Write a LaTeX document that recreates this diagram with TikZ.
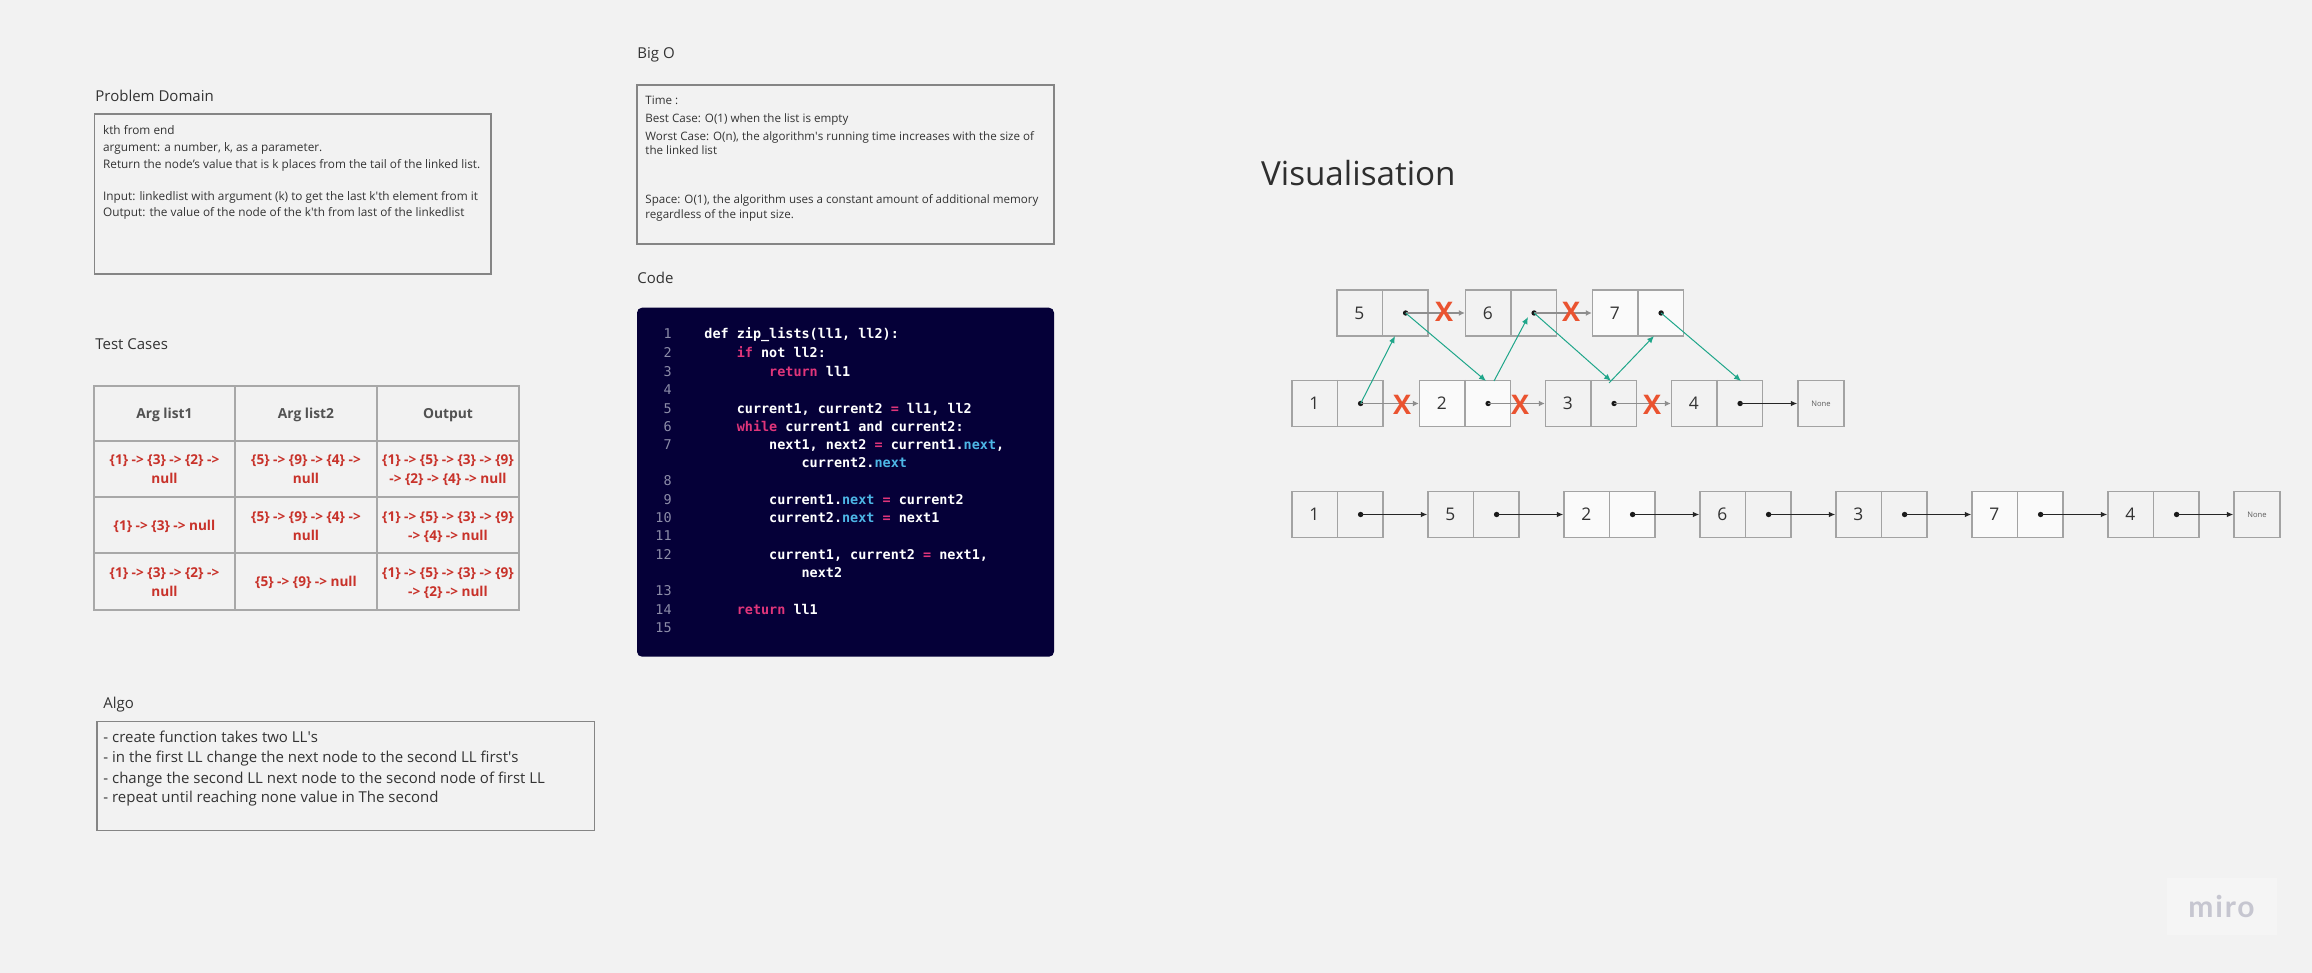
\documentclass[tikz,border=0pt]{standalone}
\usepackage{fontspec}
\setmainfont{Open Sans}
\setmonofont{DejaVu Sans Mono}
\newfontfamily\mirofont[LetterSpace=6]{Lato}
\usetikzlibrary{arrows.meta,calc}
\definecolor{bg}{HTML}{F2F2F2}
\definecolor{txt}{HTML}{333333}
\definecolor{panelline}{HTML}{858585}
\definecolor{codebg}{HTML}{050038}
\definecolor{kw}{HTML}{E0357A}
\definecolor{attr}{HTML}{4DB6E6}
\definecolor{lnum}{HTML}{8C8CA8}
\definecolor{cellred}{HTML}{C8322A}
\definecolor{tableline}{HTML}{A8A8A8}
\definecolor{xred}{HTML}{EA5330}
\definecolor{tealc}{HTML}{1FA68A}
\definecolor{garrow}{HTML}{8E8E8E}
\definecolor{llline}{HTML}{A3A3A3}
\definecolor{whitebox}{HTML}{FAFAFA}
\definecolor{mirotxt}{HTML}{C6C6D0}
\definecolor{mirobg}{HTML}{F5F5F5}
\newcommand\llcell[5]{%
  \node[llbox, fill=#5] (#1) at (#2,#3) {};
  \draw[llsep] (#1.north) -- (#1.south);
  \node[digit] (#1n) at ($(#1.west)!0.25!(#1.east)$) {#4};
  \coordinate (#1p) at ($(#1.west)!0.75!(#1.east)$);
  \fill[black!90] (#1p) circle[radius=1.35pt];
}
\begin{document}
\begin{tikzpicture}[x=0.5pt,y=-0.5pt,
  title/.style={anchor=base west, inner sep=0, text=txt, font=\fontsize{7.5pt}{9pt}\selectfont},
  bigtitle/.style={anchor=base west, inner sep=0, text=txt!90!black, font=\fontsize{16.6pt}{20pt}\selectfont},
  body/.style={anchor=base west, inner sep=0, text=txt, font=\fontsize{5.9pt}{7pt}\selectfont},
  bigo/.style={anchor=base west, inner sep=0, text=txt, font=\fontsize{5.8pt}{7pt}\selectfont},
  algo/.style={anchor=base west, inner sep=0, text=txt, font=\fontsize{7.5pt}{9pt}\selectfont},
  panel/.style={draw=panelline, line width=0.65pt},
  thead/.style={anchor=base, inner sep=0, text=txt!85!white, font=\fontsize{6.9pt}{8pt}\selectfont\bfseries},
  tcell/.style={anchor=base, inner sep=0, text=cellred, font=\fontsize{6.8pt}{8pt}\selectfont\bfseries},
  code/.style={anchor=base west, inner sep=0, text=white, font=\fontsize{6.73pt}{8pt}\selectfont\ttfamily\bfseries},
  lno/.style={anchor=base east, inner sep=0, text=lnum, font=\fontsize{6.73pt}{8pt}\selectfont\ttfamily},
  llbox/.style={draw=llline, line width=0.7pt, minimum width=45.5pt, minimum height=23pt, inner sep=0},
  llsep/.style={draw=llline, line width=0.7pt},
  digit/.style={inner sep=0, text=txt, font=\fontsize{8.7pt}{10pt}\selectfont},
  nonebox/.style={draw=llline, line width=0.7pt, minimum width=23pt, minimum height=23pt, inner sep=0, text=txt!80!white, font=\fontsize{3.8pt}{4.2pt}\selectfont},
  grayarr/.style={draw=garrow, line width=0.65pt, -{Latex[length=3pt,width=3pt]}},
  blackarr/.style={draw=black!85, line width=0.6pt, -{Latex[length=3.2pt,width=2.8pt]}},
  greenarr/.style={draw=tealc, line width=0.5pt, -{Latex[length=3.5pt,width=3pt]}},
  xmark/.style={inner sep=0, text=xred, font=\fontsize{13.5pt}{14pt}\selectfont\bfseries}
]
\fill[bg] (0,0) rectangle (2312,973);
\useasboundingbox (0,0) rectangle (2312,973);

% ---------- Problem Domain ----------
\node[title] (tpd) at (95,101.7) {Problem Domain};
\draw[panel] (94.3,114) rectangle (491,274);
\node[body] (pd1) at (102.7,134.3) {kth from end};
\node[body] (pd2) at (102.7,151.7) {argument: a number, k, as a parameter.};
\node[body] (pd3) at (102.7,169) {Return the node’s value that is k places from the tail of the linked list.};
\node[body] (pd4) at (102.7,200.7) {Input: linkedlist with argument (k) to get the last k\textquotesingle th element from it};
\node[body] (pd5) at (102.7,216.7) {Output: the value of the node of the k\textquotesingle th from last of the linkedlist};

% ---------- Big O ----------
\node[title] (tbo) at (637,58.3) {Big O};
\draw[panel] (637,85) rectangle (1054,244);
\node[bigo] (bo1) at (645,104.3) {Time :};
\node[bigo] (bo2) at (645,122.7) {Best Case: O(1) when the list is empty};
\node[bigo] (bo3) at (645,141) {Worst Case: O(n), the algorithm\textquotesingle s running time increases with the size of};
\node[bigo] (bo4) at (645,154.5) {the linked list};
\node[bigo] (bo5) at (645,203.3) {Space: O(1), the algorithm uses a constant amount of additional memory};
\node[bigo] (bo6) at (645,218.7) {regardless of the input size.};

% ---------- Code ----------
\node[title] (tcode) at (637,284) {Code};
\fill[codebg, rounded corners=2.5pt] (637,307.7) rectangle (1054,656.7);
\foreach \n/\yy in {1/338.7,2/357.7,3/376,4/394.3,5/413,6/431.3,7/449,8/485.7,9/504,10/522.3,11/540.7,12/559,13/595.3,14/614,15/632.3}
  \node[lno] (ln\n) at (672,\yy) {\n};
\node[code] (c1) at (704,338.7) {def zip\_lists(ll1, ll2):};
\node[code] (c2) at (736.4,357.7) {{\color{kw}if} not ll2:};
\node[code] (c3) at (768.8,376) {{\color{kw}return} ll1};
\node[code] (c5) at (736.4,413) {current1, current2 {\color{kw}=} ll1, ll2};
\node[code] (c6) at (736.4,431.3) {{\color{kw}while} current1 and current2:};
\node[code] (c7) at (768.8,449) {next1, next2 {\color{kw}=} current1.{\color{attr}next},};
\node[code] (c7b) at (801.2,467.3) {current2.{\color{attr}next}};
\node[code] (c9) at (768.8,504) {current1.{\color{attr}next} {\color{kw}=} current2};
\node[code] (c10) at (768.8,522.3) {current2.{\color{attr}next} {\color{kw}=} next1};
\node[code] (c12) at (768.8,559) {current1, current2 {\color{kw}=} next1,};
\node[code] (c12b) at (801.2,577.3) {next2};
\node[code] (c14) at (736.4,614) {{\color{kw}return} ll1};

% ---------- Test Cases ----------
\node[title] (ttc) at (95,349.3) {Test Cases};
\draw[draw=tableline, line width=0.75pt] (94,386) rectangle (519,610);
\draw[draw=tableline, line width=0.75pt] (235,386) -- (235,610) (377,386) -- (377,610)
  (94,441) -- (519,441) (94,497) -- (519,497) (94,553) -- (519,553);
\node[thead] (h1) at (164.5,418.6) {Arg list1};
\node[thead] (h2) at (306,418.6) {Arg list2};
\node[thead] (h3) at (448,418.6) {Output};
\node[tcell] (a1a) at (164.5,464.3) {\{1\} -> \{3\} -> \{2\} ->};
\node[tcell] (a1b) at (164.5,483.3) {null};
\node[tcell] (b1a) at (306,464.3) {\{5\} -> \{9\} -> \{4\} ->};
\node[tcell] (b1b) at (306,483.3) {null};
\node[tcell] (o1a) at (448,464.3) {\{1\} -> \{5\} -> \{3\} -> \{9\}};
\node[tcell] (o1b) at (448,483.3) {-> \{2\} -> \{4\} -> null};
\node[tcell] (a2a) at (164.5,530.3) {\{1\} -> \{3\} -> null};
\node[tcell] (b2a) at (306,521.3) {\{5\} -> \{9\} -> \{4\} ->};
\node[tcell] (b2b) at (306,540.3) {null};
\node[tcell] (o2a) at (448,521.3) {\{1\} -> \{5\} -> \{3\} -> \{9\}};
\node[tcell] (o2b) at (448,540.3) {-> \{4\} -> null};
\node[tcell] (a3a) at (164.5,577.3) {\{1\} -> \{3\} -> \{2\} ->};
\node[tcell] (a3b) at (164.5,596.3) {null};
\node[tcell] (b3a) at (306,586.3) {\{5\} -> \{9\} -> null};
\node[tcell] (o3a) at (448,577.3) {\{1\} -> \{5\} -> \{3\} -> \{9\}};
\node[tcell] (o3b) at (448,596.3) {-> \{2\} -> null};

% ---------- Algo ----------
\node[title] (talgo) at (103,708.3) {Algo};
\draw[panel] (97,721.7) rectangle (594.5,830.7);
\node[algo] (al1) at (103,742.8) {- create function takes two LL\textquotesingle s};
\node[algo] (al2) at (103,762.8) {- in the first LL change the next node to the second LL first\textquotesingle s};
\node[algo] (al3) at (103,783.8) {- change the second LL next node to the second node of first LL};
\node[algo] (al4) at (103,802.8) {- repeat until reaching none value in The second};

% ---------- Visualisation ----------
\node[bigtitle] (tvis) at (1260.7,186) {Visualisation};

% top list
\llcell{t5}{1382.5}{313}{5}{bg}
\llcell{t6}{1511}{313}{6}{bg}
\llcell{t7}{1638}{313}{7}{whitebox}
% bottom list
\llcell{b1}{1337.5}{403.5}{1}{bg}
\llcell{b2}{1465}{403.5}{2}{whitebox}
\llcell{b3}{1591}{403.5}{3}{bg}
\llcell{b4}{1717}{403.5}{4}{bg}
\node[nonebox, fill=bg] (bn) at (1821,403.5) {None};

\draw[grayarr] (t5p) -- (t6.west);
\draw[grayarr] (t6p) -- (t7.west);
\draw[grayarr] (b1p) -- (b2.west);
\draw[grayarr] (b2p) -- (b3.west);
\draw[grayarr] (b3p) -- (b4.west);
\draw[blackarr] (b4p) -- (bn.west);

\node[xmark] (x1) at (1444,312) {X};
\node[xmark] (x2) at (1571,312) {X};
\node[xmark] (x3) at (1402,405) {X};
\node[xmark] (x4) at (1520,405) {X};
\node[xmark] (x5) at (1652,405) {X};

\coordinate (g1e) at (1395,336);
\coordinate (g2e) at (1486,381);
\coordinate (g3s) at (1494,381);
\coordinate (g3e) at (1528,317);
\coordinate (g4e) at (1611,381);
\coordinate (g5s) at (1609,383);
\coordinate (g5e) at (1654,336);
\coordinate (g6e) at (1741,381);
\draw[greenarr] (b1p) -- (g1e);
\draw[greenarr] (t5p) -- (g2e);
\draw[greenarr] (g3s) -- (g3e);
\draw[greenarr] (t6p) -- (g4e);
\draw[greenarr] (g5s) -- (g5e);
\draw[greenarr] (t7p) -- (g6e);

% result list
\llcell{r1}{1337.5}{514.5}{1}{bg}
\llcell{r5}{1473.5}{514.5}{5}{bg}
\llcell{r2}{1609.5}{514.5}{2}{whitebox}
\llcell{r6}{1745.5}{514.5}{6}{bg}
\llcell{r3}{1881.5}{514.5}{3}{bg}
\llcell{r7}{2017.5}{514.5}{7}{whitebox}
\llcell{r4}{2153.5}{514.5}{4}{bg}
\node[nonebox, fill=bg] (rn) at (2257,514.5) {None};
\draw[blackarr] (r1p) -- (r5.west);
\draw[blackarr] (r5p) -- (r2.west);
\draw[blackarr] (r2p) -- (r6.west);
\draw[blackarr] (r6p) -- (r3.west);
\draw[blackarr] (r3p) -- (r7.west);
\draw[blackarr] (r7p) -- (r4.west);
\draw[blackarr] (r4p) -- (rn.west);

% ---------- miro logo ----------
\fill[mirobg] (2167,878) rectangle (2277,935);
\node[inner sep=0, text=mirotxt, font=\mirofont\bfseries\fontsize{15pt}{16pt}\selectfont] (miro) at (2221.5,906) {miro};
\end{tikzpicture}
\end{document}
